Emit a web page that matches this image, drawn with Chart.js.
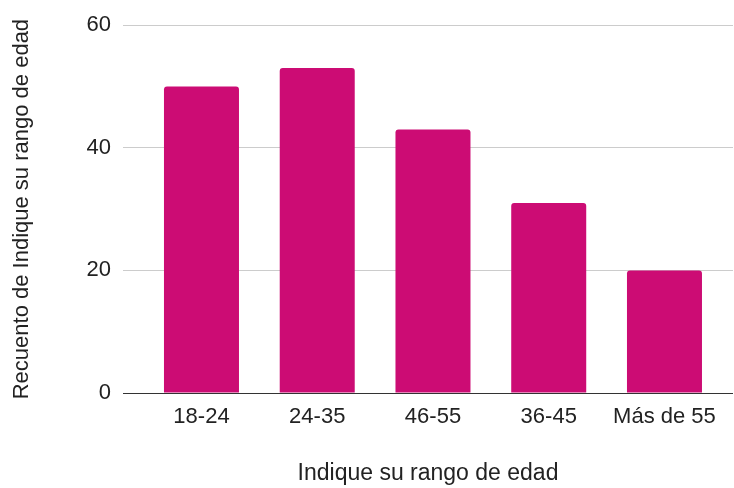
<!DOCTYPE html>
<html lang="es">
<head>
  <meta charset="UTF-8">
  <title>Rango de edad</title>
  <script src="https://cdn.jsdelivr.net/npm/chart.js"></script>
  <style>
    body { margin: 0; background: #fff; }
  </style>
</head>
<body>
<canvas id="myChart" width="734" height="488"></canvas>
<script>
const labels = ['18-24', '24-35', '46-55', '36-45', 'Más de 55'];
const counts = [50, 53, 43, 31, 20];
const yTicks = [0, 20, 40, 60];

const textColor = '#222';
const fontFamily = "'Liberation Sans', Arial, sans-serif";

const data = {
  datasets: [{
    label: 'Recuento de Indique su rango de edad',
    backgroundColor: '#cc0c74',
    borderRadius: 3,
    barPercentage: 0.648,
    categoryPercentage: 1,
    data: counts.map((v, i) => ({ x: i, y: v })),
  }]
};

const config = {
  type: 'bar',
  data: data,
  options: {
    responsive: false,
    animation: false,
    layout: { padding: { top: 25, right: 1, left: 0, bottom: 0 } },
    plugins: {
      legend: { display: false },
      tooltip: { enabled: false }
    },
    scales: {
      x: {
        type: 'linear',
        offset: false,
        min: -0.678,
        max: 4.592,
        afterFit: function (scale) { scale.height = 95; },
        afterBuildTicks: function (scale) {
          scale.ticks = labels.map((_, i) => ({ value: i }));
        },
        grid: { display: false, offset: false },
        border: { display: false },
        ticks: {
          autoSkip: false,
          maxRotation: 0,
          padding: 3,
          color: textColor,
          font: { family: fontFamily, size: 22 },
          callback: function (v) { return labels[v]; }
        },
        title: {
          display: true,
          text: 'Indique su rango de edad',
          color: textColor,
          font: { family: fontFamily, size: 23 },
          padding: { top: 0, bottom: 1 }
        }
      },
      y: {
        min: 0,
        max: 60,
        afterFit: function (scale) { scale.width = 123; },
        afterBuildTicks: function (scale) {
          scale.ticks = yTicks.map(v => ({ value: v }));
        },
        grid: {
          drawTicks: false,
          lineWidth: 1,
          color: function (ctx) {
            return ctx.tick && ctx.tick.value === 0 ? '#333' : '#cccccc';
          }
        },
        border: { display: false },
        ticks: {
          padding: 12,
          color: textColor,
          font: { family: fontFamily, size: 22 }
        },
        title: {
          display: true,
          text: 'Recuento de Indique su rango de edad',
          color: textColor,
          font: { family: fontFamily, size: 22 },
          padding: { top: 9, bottom: 0 }
        }
      }
    }
  }
};

const myChart = new Chart(
  document.getElementById('myChart'),
  config
);
</script>
</body>
</html>
